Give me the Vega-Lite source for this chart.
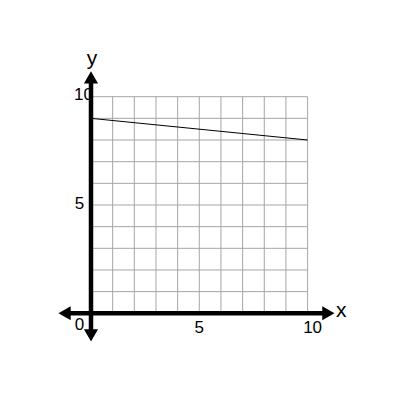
{
  "$schema": "https://vega.github.io/schema/vega-lite/v6.json",
  "width": 400,
  "height": 400,
  "padding": 0,
  "autosize": {"type": "fit", "contains": "padding"},
  "background": "white",
  "view": {"stroke": null},
  "config": {"text": {"font": "Liberation Sans"}},
  "datasets": {
    "grid": [
      {"v": 0}, {"v": 1}, {"v": 2}, {"v": 3}, {"v": 4}, {"v": 5},
      {"v": 6}, {"v": 7}, {"v": 8}, {"v": 9}, {"v": 10}
    ],
    "line": [{"x": 0, "y": 9}, {"x": 10, "y": 8}],
    "axes": [
      {"x1": -1.2, "x2": 11.0, "y1": 0, "y2": 0},
      {"x1": 0, "x2": 0, "y1": -1.0, "y2": 10.9}
    ],
    "arrows": [
      {"x": -1.22, "y": 0, "dir": "triangle-left"},
      {"x": 10.96, "y": 0, "dir": "triangle-right"},
      {"x": 0, "y": 10.89, "dir": "triangle-up"},
      {"x": 0, "y": -1.02, "dir": "triangle-down"}
    ],
    "ticks": [
      {"x": -0.53, "y": -0.54, "t": "0"},
      {"x": 5, "y": -0.7, "t": "5"},
      {"x": 10.23, "y": -0.7, "t": "10"},
      {"x": -0.53, "y": 5.05, "t": "5"},
      {"x": -0.35, "y": 10.07, "t": "10"}
    ],
    "names": [
      {"x": 11.55, "y": 0.1, "t": "x"},
      {"x": 0.05, "y": 11.75, "t": "y"}
    ]
  },
  "layer": [
    {
      "data": {"name": "grid"},
      "mark": {"type": "rule", "color": "#a6a6a6", "strokeWidth": 1},
      "encoding": {
        "x": {"field": "v", "type": "quantitative", "axis": null, "scale": {"domain": [-4.201, 14.266], "nice": false, "zero": false}},
        "y": {"datum": 0, "axis": null, "scale": {"domain": [-4.003, 14.464], "nice": false, "zero": false}},
        "y2": {"datum": 10}
      }
    },
    {
      "data": {"name": "grid"},
      "mark": {"type": "rule", "color": "#a6a6a6", "strokeWidth": 1},
      "encoding": {
        "y": {"field": "v", "type": "quantitative", "axis": null, "scale": {"domain": [-4.003, 14.464], "nice": false, "zero": false}},
        "x": {"datum": 0, "axis": null, "scale": {"domain": [-4.201, 14.266], "nice": false, "zero": false}},
        "x2": {"datum": 10}
      }
    },
    {
      "data": {"name": "line"},
      "mark": {"type": "line", "color": "black", "strokeWidth": 1},
      "encoding": {
        "x": {"field": "x", "type": "quantitative", "axis": null, "scale": {"domain": [-4.201, 14.266], "nice": false, "zero": false}},
        "y": {"field": "y", "type": "quantitative", "axis": null, "scale": {"domain": [-4.003, 14.464], "nice": false, "zero": false}}
      }
    },
    {
      "data": {"name": "ticks"},
      "mark": {"type": "text", "fontSize": 17, "align": "center", "baseline": "middle", "color": "black"},
      "encoding": {
        "x": {"field": "x", "type": "quantitative", "axis": null, "scale": {"domain": [-4.201, 14.266], "nice": false, "zero": false}},
        "y": {"field": "y", "type": "quantitative", "axis": null, "scale": {"domain": [-4.003, 14.464], "nice": false, "zero": false}},
        "text": {"field": "t"}
      }
    },
    {
      "data": {"name": "axes"},
      "mark": {"type": "rule", "color": "black", "strokeWidth": 4.5},
      "encoding": {
        "x": {"field": "x1", "type": "quantitative", "axis": null, "scale": {"domain": [-4.201, 14.266], "nice": false, "zero": false}},
        "x2": {"field": "x2"},
        "y": {"field": "y1", "type": "quantitative", "axis": null, "scale": {"domain": [-4.003, 14.464], "nice": false, "zero": false}},
        "y2": {"field": "y2"}
      }
    },
    {
      "data": {"name": "arrows"},
      "mark": {"type": "point", "filled": true, "color": "black", "opacity": 1, "size": 200},
      "encoding": {
        "x": {"field": "x", "type": "quantitative", "axis": null, "scale": {"domain": [-4.201, 14.266], "nice": false, "zero": false}},
        "y": {"field": "y", "type": "quantitative", "axis": null, "scale": {"domain": [-4.003, 14.464], "nice": false, "zero": false}},
        "shape": {"field": "dir", "type": "nominal", "scale": null, "legend": null}
      }
    },
    {
      "data": {"name": "names"},
      "mark": {"type": "text", "fontSize": 21, "align": "center", "baseline": "middle", "color": "black"},
      "encoding": {
        "x": {"field": "x", "type": "quantitative", "axis": null, "scale": {"domain": [-4.201, 14.266], "nice": false, "zero": false}},
        "y": {"field": "y", "type": "quantitative", "axis": null, "scale": {"domain": [-4.003, 14.464], "nice": false, "zero": false}},
        "text": {"field": "t"}
      }
    }
  ]
}
